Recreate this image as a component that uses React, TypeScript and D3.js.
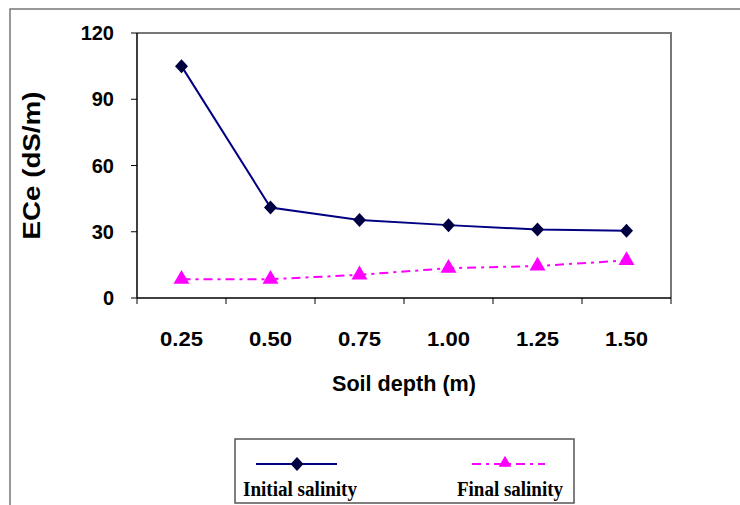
import React from 'react'
import * as d3 from 'd3'

const depths = ['0.25', '0.50', '0.75', '1.00', '1.25', '1.50']
const initialSalinity = [105, 41, 35.3, 33, 31, 30.4]
const finalSalinity = [8.5, 8.5, 10.5, 13.5, 14.5, 17]
const yTicks = [0, 30, 60, 90, 120]

const W = 740
const H = 505
const margin = { top: 33, right: 69, bottom: 207, left: 137 }

// rhombus marker, slightly taller than wide
const diamondPath = 'M0,-7L6.5,0L0,7L-6.5,0Z'

export default function App() {
  const innerW = W - margin.left - margin.right
  const innerH = H - margin.top - margin.bottom

  const x = d3.scaleBand<string>().domain(depths).range([0, innerW])
  const y = d3.scaleLinear().domain([0, 120]).range([innerH, 0])
  const cx = (d: string) => (x(d) ?? 0) + x.bandwidth() / 2

  const line = d3.line<number>()
    .x((_, i) => cx(depths[i]))
    .y(v => y(v))

  const triangle = d3.symbol().type(d3.symbolTriangle).size(110)()
  const smallTriangle = d3.symbol().type(d3.symbolTriangle).size(70)()

  const arial = 'Arial, "Liberation Sans", sans-serif'
  const times = '"Liberation Serif", "Times New Roman", serif'

  return (
    <svg width={W} height={H} style={{ position: 'absolute', left: 0, top: 0, background: '#fff' }}>
      {/* outer frame */}
      <path d={`M10,${H} V9 H${W}`} fill="none" stroke="#777" strokeWidth={1.5} />

      <g transform={`translate(${margin.left},${margin.top})`}>
        {/* plot border top/right */}
        <path d={`M0,0 H${innerW} V${innerH}`} fill="none" stroke="#777" strokeWidth={2} />
        {/* axes */}
        <line x1={0} x2={0} y1={0} y2={innerH} stroke="#000" strokeWidth={1.5} />
        <line x1={0} x2={innerW} y1={innerH} y2={innerH} stroke="#000" strokeWidth={1.5} />

        {yTicks.map(t => (
          <g key={t} transform={`translate(0,${y(t)})`}>
            <line x1={-6} x2={0} stroke="#000" />
            <text x={-23} dy="0.36em" textAnchor="end" fontFamily={arial} fontWeight="bold" fontSize={20}>{t}</text>
          </g>
        ))}

        {depths.map(d => (
          <line key={'t' + d} x1={x(d)!} x2={x(d)!} y1={innerH} y2={innerH + 6} stroke="#000" />
        ))}
        <line x1={innerW} x2={innerW} y1={innerH} y2={innerH + 6} stroke="#000" />

        {depths.map(d => (
          <text key={'l' + d} x={cx(d)} y={innerH + 48} textAnchor="middle" fontFamily={arial} fontWeight="bold" fontSize={20} textLength={43} lengthAdjust="spacingAndGlyphs">{d}</text>
        ))}

        <path d={line(initialSalinity) ?? ''} fill="none" stroke="#000080" strokeWidth={2} />
        {initialSalinity.map((v, i) => (
          <path key={'i' + i} d={diamondPath} transform={`translate(${cx(depths[i])},${y(v)})`} fill="#000040" />
        ))}

        <path d={line(finalSalinity) ?? ''} fill="none" stroke="#ff00ff" strokeWidth={2} strokeDasharray="9,5,3,5" />
        {finalSalinity.map((v, i) => (
          <path key={'f' + i} d={triangle ?? ''} transform={`translate(${cx(depths[i])},${y(v)})`} fill="#ff00ff" />
        ))}

        <text x={innerW / 2} y={innerH + 93} textAnchor="middle" fontFamily={arial} fontWeight="bold" fontSize={22} textLength={144} lengthAdjust="spacingAndGlyphs">Soil depth (m)</text>
        <text transform={`translate(-97,${innerH / 2}) rotate(-90)`} textAnchor="middle" fontFamily={arial} fontWeight="bold" fontSize={23} textLength={148} lengthAdjust="spacingAndGlyphs">ECe (dS/m)</text>
      </g>

      {/* legend */}
      <g>
        <rect x={235} y={439} width={339} height={64} fill="#fff" stroke="#555" strokeWidth={1.5} />
        <line x1={256} x2={337} y1={464} y2={464} stroke="#000080" strokeWidth={2} />
        <path d={diamondPath} transform="translate(297,464)" fill="#000040" />
        <text x={243} y={496} fontFamily={times} fontWeight="bold" fontSize={20} textLength={114} lengthAdjust="spacingAndGlyphs">Initial salinity</text>
        <line x1={472} x2={545} y1={464} y2={464} stroke="#ff00ff" strokeWidth={2} strokeDasharray="9,5,3,5" />
        <path d={smallTriangle ?? ''} transform="translate(505,463)" fill="#ff00ff" />
        <text x={457} y={496} fontFamily={times} fontWeight="bold" fontSize={20} textLength={106} lengthAdjust="spacingAndGlyphs">Final salinity</text>
      </g>
    </svg>
  )
}
